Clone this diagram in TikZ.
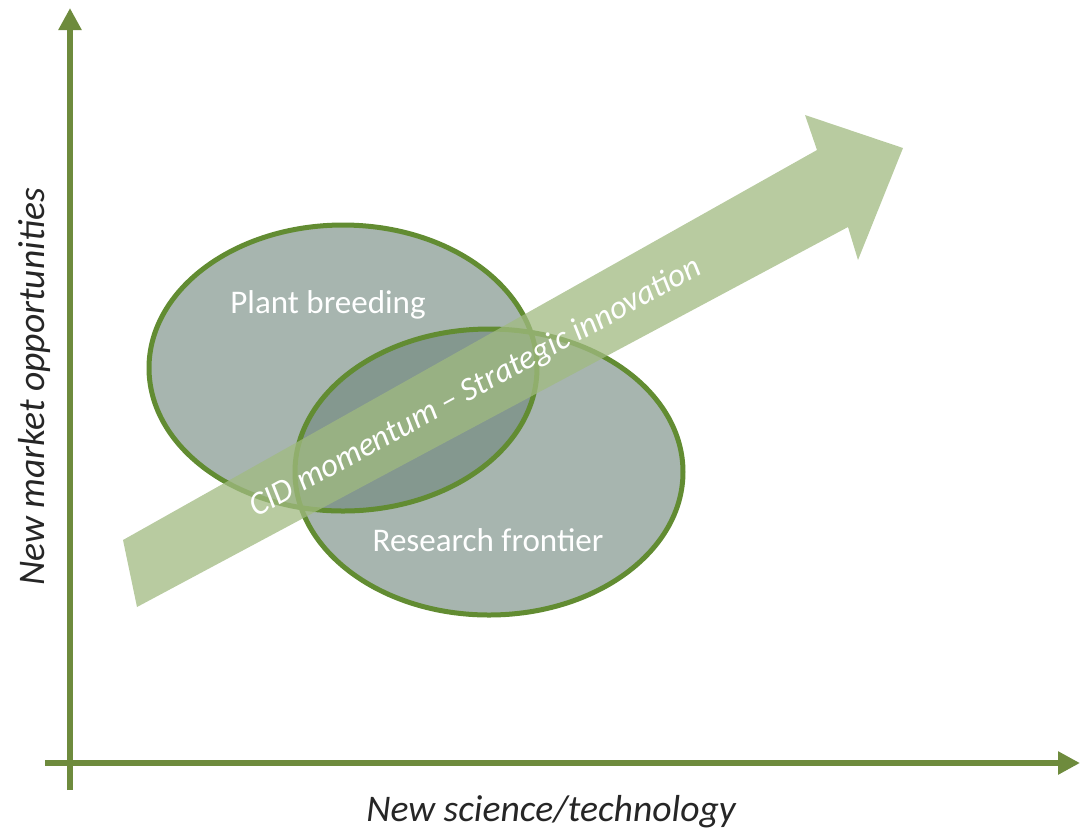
\documentclass[tikz,border=0pt]{standalone}
\usepackage{fontspec}
\setmainfont{Carlito}
\usetikzlibrary{shapes.geometric,arrows.meta,positioning}
\definecolor{axisGreen}{RGB}{110,139,61}
\definecolor{rimGreen}{RGB}{98,140,50}
\definecolor{fieldGray}{RGB}{108,132,122}
\definecolor{momentumGreen}{RGB}{160,186,128}
\tikzset{
    axisLine/.style={
    ,   draw=axisGreen
    ,   line width=0.6mm
    ,   -{Triangle[length=2.2mm, width=2.2mm]}
    },
    field/.style={
    ,   ellipse
    ,   fill=fieldGray
    ,   fill opacity=0.6
    ,   minimum width=38.8mm
    ,   minimum height=28.6mm
    ,   inner sep=0pt
    ,   outer sep=0pt
    },
    fieldRim/.style={
    ,   ellipse
    ,   draw=rimGreen
    ,   line width=0.5mm
    ,   minimum width=38.8mm
    ,   minimum height=28.6mm
    ,   inner sep=0pt
    },
    fieldLabel/.style={
    ,   text=white
    ,   font={\fontsize{9.4pt}{11pt}\selectfont}
    },
    axisLabel/.style={
    ,   text=black!85
    ,   font={\fontsize{10.7pt}{12pt}\selectfont\itshape}
    }
}

\begin{document}
\begin{tikzpicture}[x=0.1mm, y=-0.1mm
				,momentum/.style={fill=momentumGreen, fill opacity=0.75}]
		\useasboundingbox (0,0) rectangle (1081,838);

		% axes
		\coordinate (origin) at (70,790);
		\coordinate (yEnd) at (70,8);
		\coordinate (xStart) at (45,763);
		\coordinate (xEnd) at (1080,763);
		\draw[axisLine] (origin) -- (yEnd);
		\draw[axisLine] (xStart) -- (xEnd);
		\node[axisLabel, rotate=90] (yLabel) at (34,387) {New market opportunities};
		\node[axisLabel] (xLabel) at (551,812) {New science/technology};

		% fields
		\node[field] (plant) at (343,368) {};
		\node[field] (research) at (489,472) {};
		\node[fieldRim] (plantRim) at (plant) {};
		\node[fieldRim] (researchRim) at (research) {};

		% momentum arrow
		\path[momentum] (123,540) -- (817,150) -- (805,115) -- (903,148)
				-- (858,260) -- (848,227) -- (137,607) -- cycle;

		\node[fieldLabel] (plantLabel) at (328,305) {Plant breeding};
		\node[fieldLabel] (researchLabel) at (488,540) {Research frontier};
		\node[fieldLabel, rotate=28.6, font={\fontsize{9.4pt}{11pt}\selectfont\itshape}]
				(momentumLabel) at (476,388) {CID momentum – Strategic innovation};
\end{tikzpicture}
\end{document}
